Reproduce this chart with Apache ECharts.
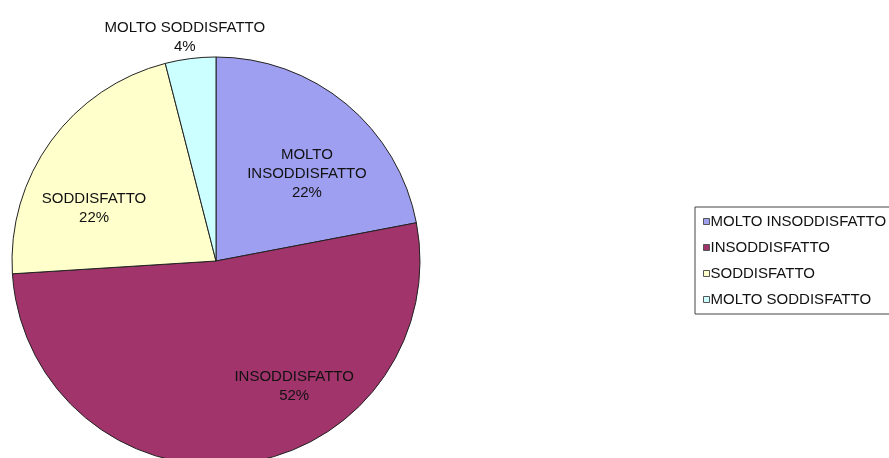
<!DOCTYPE html>
<html><head><meta charset="utf-8">
<script src="https://cdn.jsdelivr.net/npm/echarts@6/dist/echarts.min.js"></script>
<style>html,body{margin:0;padding:0;background:#fff}#c{width:889px;height:458px}</style>
</head><body><div id="c"></div>
<script>
const categories = ['MOLTO INSODDISFATTO', 'INSODDISFATTO', 'SODDISFATTO', 'MOLTO SODDISFATTO'];
const values = [22, 52, 22, 4];
const colors = ['#9f9ff2', '#a2346c', '#ffffcc', '#ccffff'];
const labelNames = ['MOLTO\nINSODDISFATTO', 'INSODDISFATTO', 'SODDISFATTO', 'MOLTO SODDISFATTO'];
const labelOffsets = [[24, -6], [65, 21], [-37, 9], [-18, -119]];

const chart = echarts.init(document.getElementById('c'));
chart.setOption({
  animation: false,
  backgroundColor: '#fff',
  textStyle: { fontFamily: 'Liberation Sans, Arial, sans-serif' },
  legend: {
    orient: 'vertical',
    left: 695, top: 207,
    padding: [7, 6, 7, 8],
    itemGap: 11,
    itemWidth: 6, itemHeight: 6,
    icon: 'rect',
    borderColor: '#444', borderWidth: 1,
    data: categories.map((c, i) => ({ name: c, itemStyle: { borderColor: '#555', borderWidth: 1 } })),
    textStyle: { fontSize: 15, color: '#111', padding: [0, 0, 0, -4] }
  },
  series: [{
    type: 'pie',
    center: [216, 261],
    radius: 204,
    startAngle: 90,
    clockwise: true,
    data: categories.map((c, i) => ({ name: c, value: values[i], itemStyle: { color: colors[i] } })),
    itemStyle: { borderColor: '#222', borderWidth: 1 },
    label: {
      position: 'inside',
      fontSize: 15, lineHeight: 19, color: '#111',
      formatter: p => labelNames[p.dataIndex] + '\n' + p.value + '%'
    },
    labelLine: { show: false },
    labelLayout: p => ({ dx: labelOffsets[p.dataIndex][0], dy: labelOffsets[p.dataIndex][1] }),
    emphasis: { disabled: true }
  }]
});
</script></body></html>
